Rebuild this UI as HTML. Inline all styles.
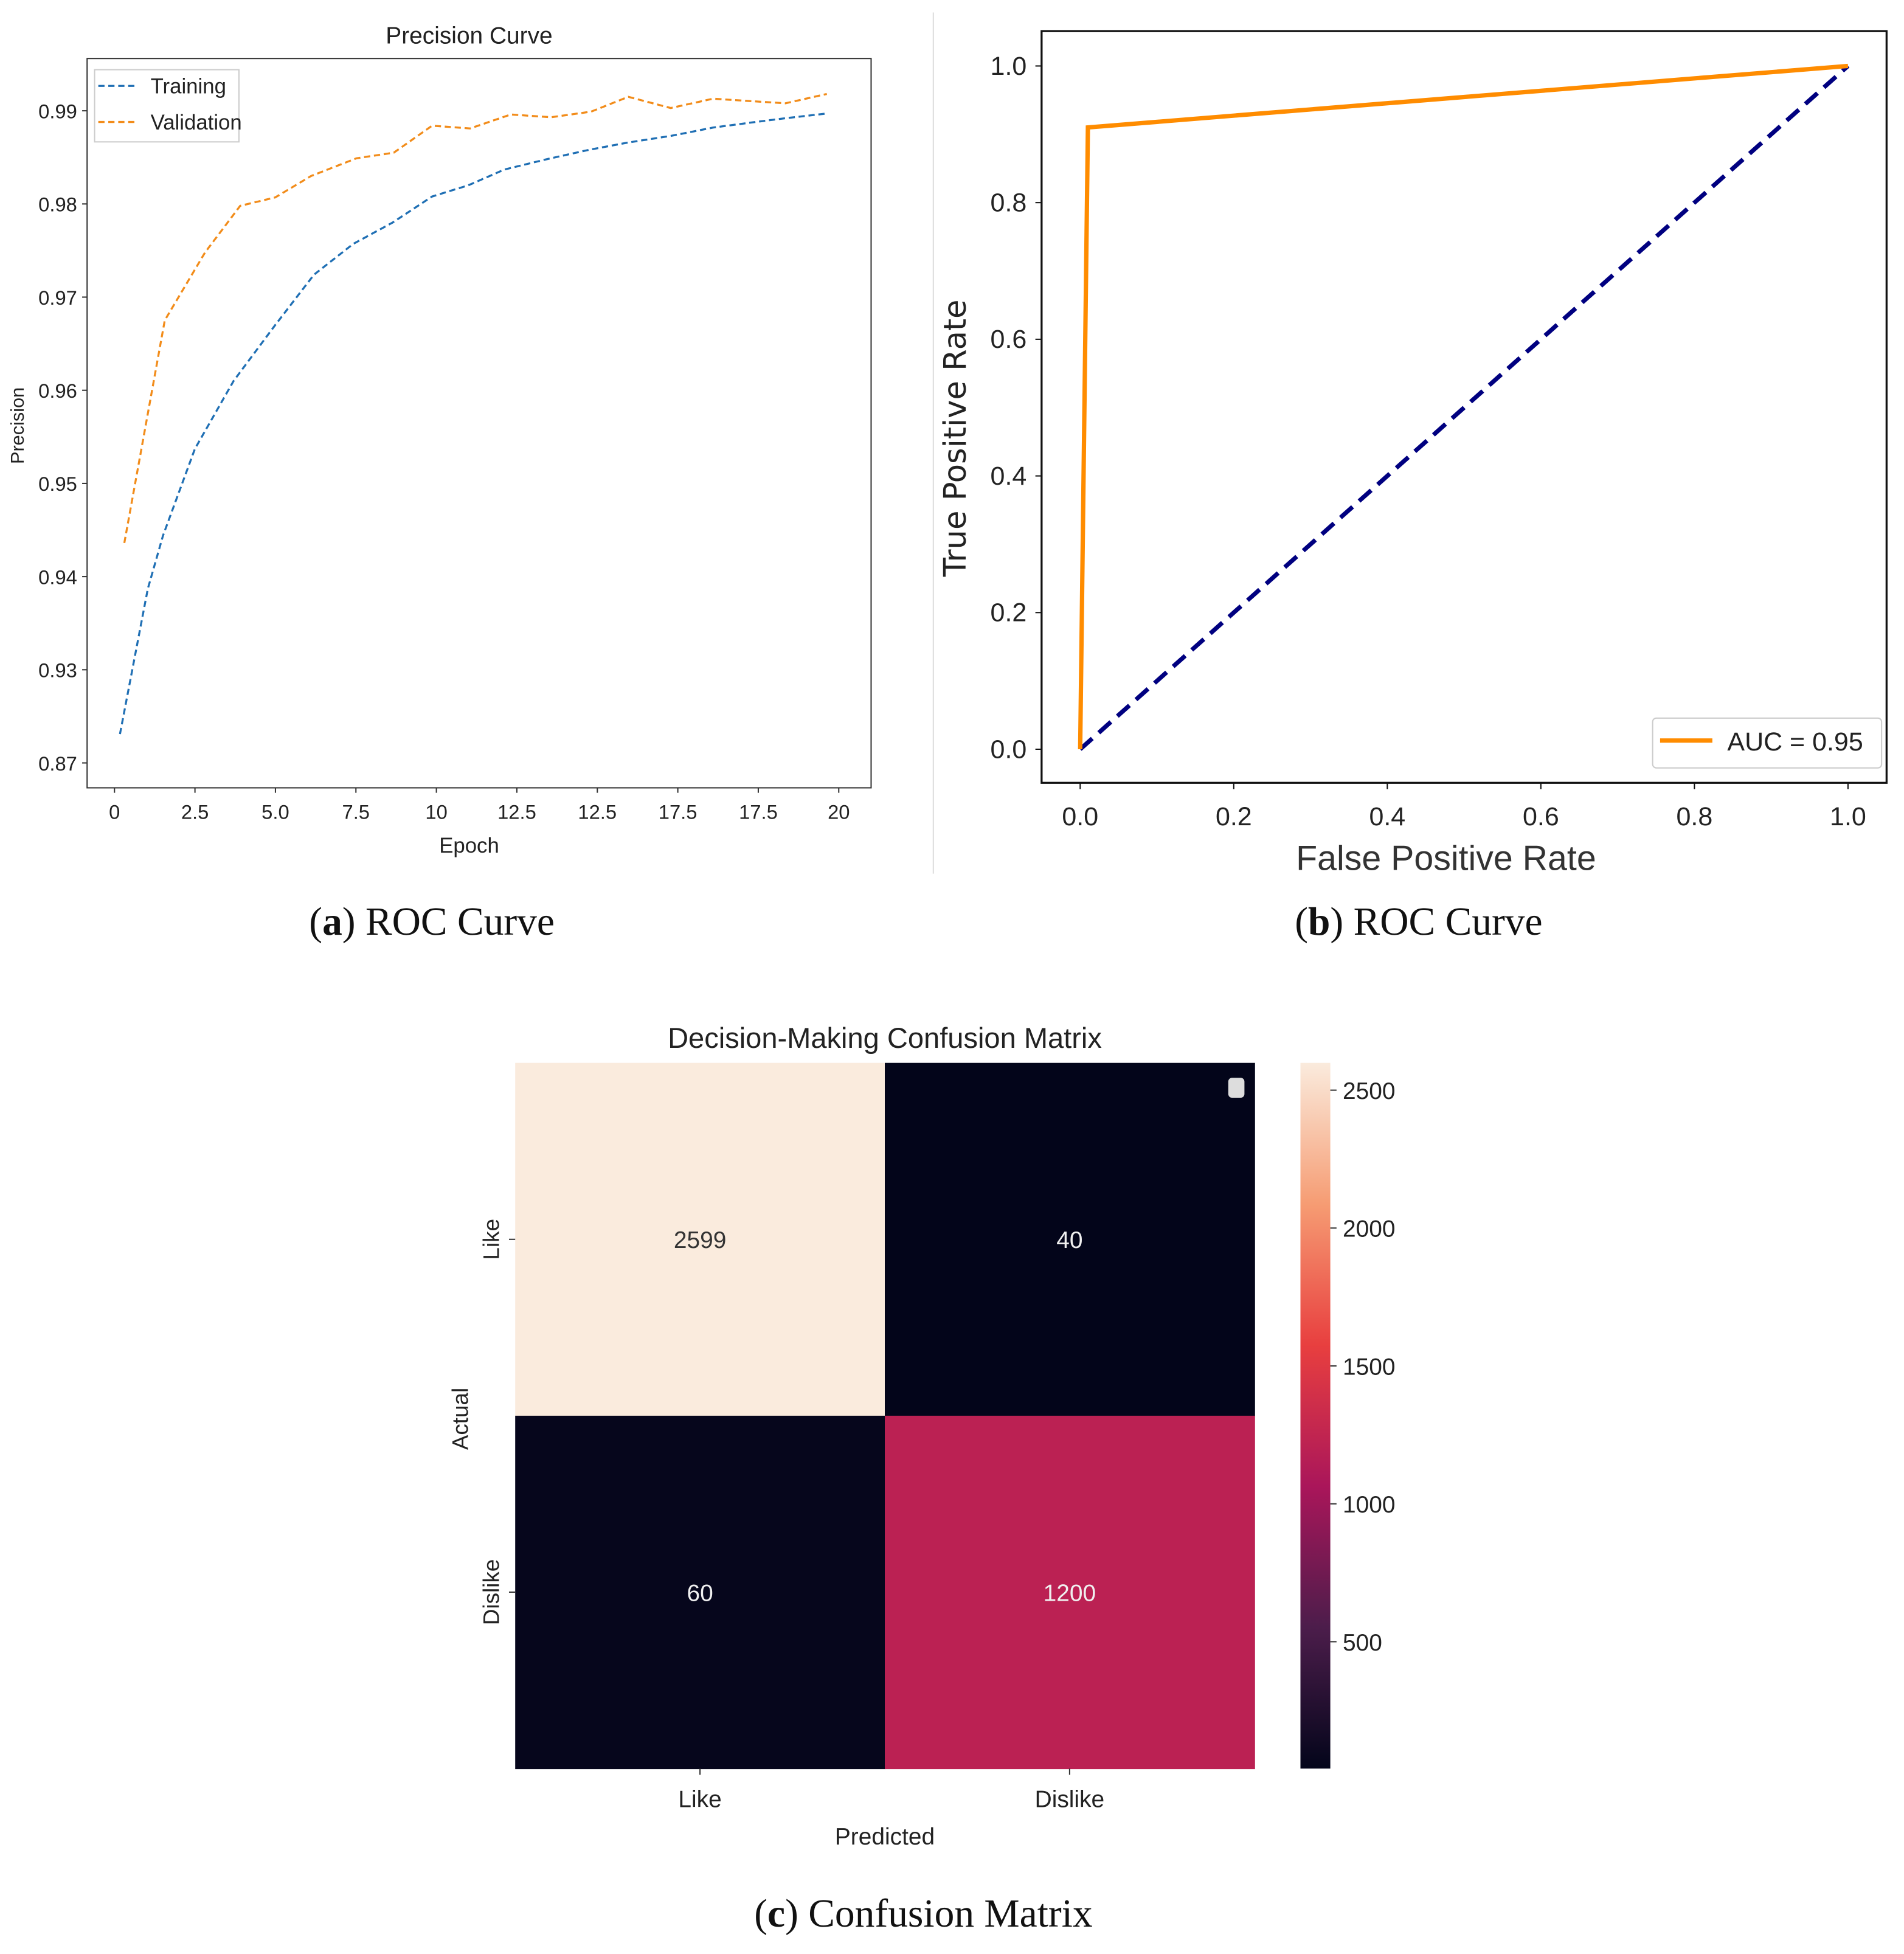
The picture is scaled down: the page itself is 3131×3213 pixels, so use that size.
<!DOCTYPE html>
<html><head><meta charset="utf-8"><style>
html,body{margin:0;padding:0;background:#fff}
svg{display:block}
text{font-family:"Liberation Sans",sans-serif}
.serif{font-family:"Liberation Serif",serif}
</style></head><body>
<svg id="fig" width="3131" height="3213" viewBox="0 0 1530 1570" preserveAspectRatio="none" xmlns="http://www.w3.org/2000/svg">
<defs>
<linearGradient id="rocket" x1="0" y1="1" x2="0" y2="0">
<stop offset="0" stop-color="#03051a"/><stop offset="0.2" stop-color="#4c1d4b"/><stop offset="0.4" stop-color="#aa165a"/><stop offset="0.6" stop-color="#e83f3f"/><stop offset="0.8" stop-color="#f69c73"/><stop offset="1" stop-color="#faebdd"/>
</linearGradient>
</defs>
<line x1="750" y1="10" x2="750" y2="702" stroke="#ddd" stroke-width="1"/>
<g id="pa"></g>
<g id="pb"></g>
<g id="pc"></g>
<text class="serif" fill="#111" x="347" y="751" font-size="32" text-anchor="middle">(<tspan font-weight="bold">a</tspan>) ROC Curve</text>
<text class="serif" fill="#111" x="1140" y="751" font-size="32" text-anchor="middle">(<tspan font-weight="bold">b</tspan>) ROC Curve</text>
<text class="serif" fill="#111" x="742" y="1548" font-size="32" text-anchor="middle">(<tspan font-weight="bold">c</tspan>) Confusion Matrix</text>
</svg>
<script>
// ---- Panel A data ----
const trainEpochs=[0.15,0.92,1.34,2.22,3.29,4.42,5.51,6.59,7.68,8.77,9.77,10.77,11.94,13.1,14.19,15.36,16.53,17.7,18.53,19.67];
const trainPrecision=[0.9231,0.9387,0.9444,0.9537,0.9610,0.9669,0.9724,0.9757,0.9780,0.9808,0.9820,0.9837,0.9848,0.9858,0.9866,0.9873,0.9882,0.9888,0.9892,0.9897];
const valEpochs=[0.27,1.39,2.5,3.47,4.44,5.43,6.68,7.71,8.77,9.82,10.94,12.06,13.16,14.19,15.36,16.53,17.7,18.53,19.67];
const valPrecision=[0.9436,0.9675,0.9748,0.9798,0.9807,0.9830,0.9849,0.9855,0.9884,0.9881,0.9896,0.9893,0.9899,0.9915,0.9903,0.9913,0.9910,0.9908,0.9918];
const aYTickValues=[0.99,0.98,0.97,0.96,0.95,0.94,0.93,0.92];
const aYTickLabels=["0.99","0.98","0.97","0.96","0.95","0.94","0.93","0.87"];
const aXTickLabels=["0","2.5","5.0","7.5","10","12.5","12.5","17.5","17.5","20"];
// ---- Panel B data ----
const rocFpr=[0,0.01,1];
const rocTpr=[0,0.91,1];
const diagX=[0,1];
const diagY=[0,1];
const bTicks=[0,0.2,0.4,0.6,0.8,1.0];
const bTickLabels=["0.0","0.2","0.4","0.6","0.8","1.0"];
// ---- Panel C data ----
const cmLabels=["Like","Dislike"];
const cmValues=[[2599,40],[60,1200]];
const cbTicks=[500,1000,1500,2000,2500];

const NS="http://www.w3.org/2000/svg";
function mk(parent,tag,attrs,txt){const e=document.createElementNS(NS,tag);for(const k in attrs)e.setAttribute(k,attrs[k]);if(tag==='text'&&!attrs.fill)e.setAttribute('fill','#222');if(txt!==undefined)e.textContent=txt;parent.appendChild(e);return e;}

// Panel A
(function(){
const g=document.getElementById('pa');
const L=70,R=700,T=47,B=633;
const ax=v=>92+(v/20)*(674-92);
const ay=v=>89+(0.99-v)/0.07*(613-89);
let t=mk(g,'text',{x:377,y:35,'font-size':19,'text-anchor':'middle'},'Precision Curve');

let r=mk(g,'rect',{x:L,y:T,width:R-L,height:B-T,fill:'none',stroke:'#333','stroke-width':1});

aYTickValues.forEach((v,i)=>{const y=ay(v);
 mk(g,'line',{x1:L-4,y1:y,x2:L,y2:y,stroke:'#333'});
 const e=mk(g,'text',{x:L-8,y:y+6,'font-size':16,'text-anchor':'end'},aYTickLabels[i]);
 });
aXTickLabels.forEach((lab,i)=>{const x=ax(i*20/9);
 mk(g,'line',{x1:x,y1:B,x2:x,y2:B+4,stroke:'#333'});
 const e=mk(g,'text',{x:x,y:B+25,'font-size':16,'text-anchor':'middle'},lab);
 });
t=mk(g,'text',{x:377,y:685,'font-size':17,'text-anchor':'middle'},'Epoch');

t=mk(g,'text',{x:0,y:0,'font-size':15,'text-anchor':'middle',transform:'translate(19,342) rotate(-90)'},'Precision');

function series(xs,ys,col,name){const d=xs.map((x,i)=>(i?'L':'M')+ax(x).toFixed(1)+','+ay(ys[i]).toFixed(1)).join(' ');
 const p=mk(g,'path',{d:d,fill:'none',stroke:col,'stroke-width':1.6,'stroke-dasharray':'5,3'});
 }
series(trainEpochs,trainPrecision,'#1f6fb4','training-line');
series(valEpochs,valPrecision,'#f28c1a','validation-line');
const lg=mk(g,'g',{});
mk(lg,'rect',{x:76,y:56,width:116,height:58,fill:'#fff',stroke:'#ccc'});
mk(lg,'line',{x1:79,y1:69,x2:109,y2:69,stroke:'#1f6fb4','stroke-width':1.6,'stroke-dasharray':'5,3'});
mk(lg,'line',{x1:79,y1:98,x2:109,y2:98,stroke:'#f28c1a','stroke-width':1.6,'stroke-dasharray':'5,3'});
let e=mk(lg,'text',{x:121,y:75,'font-size':17},'Training');
e=mk(lg,'text',{x:121,y:104,'font-size':17},'Validation');
})();

// Panel B
(function(){
const g=document.getElementById('pb');
const L=837,R=1516,T=25,B=629;
const bx=v=>868+v*(1485-868);
const by=v=>602-v*(602-53);
let r=mk(g,'rect',{x:L,y:T,width:R-L,height:B-T,fill:'none',stroke:'#111','stroke-width':1.6});

bTicks.forEach((v,i)=>{
 mk(g,'line',{x1:L-5,y1:by(v),x2:L,y2:by(v),stroke:'#111'});
 let e=mk(g,'text',{x:L-12,y:by(v)+7,'font-size':21,'text-anchor':'end'},bTickLabels[i]);
 
 mk(g,'line',{x1:bx(v),y1:B,x2:bx(v),y2:B+5,stroke:'#111'});
 e=mk(g,'text',{x:bx(v),y:B+34,'font-size':21,'text-anchor':'middle'},bTickLabels[i]);
 });
let t=mk(g,'text',{x:0,y:0,'font-size':25,'text-anchor':'middle',transform:'translate(776,352) rotate(-90)',style:'font-family:"DejaVu Sans",sans-serif'},'True Positive Rate');

t=mk(g,'text',{x:1162,y:699,'font-size':28,'text-anchor':'middle',fill:'#333'},'False Positive Rate');

let p=mk(g,'path',{d:diagX.map((x,i)=>(i?'L':'M')+bx(x)+','+by(diagY[i])).join(' '),fill:'none',stroke:'#000080','stroke-width':3.5,'stroke-dasharray':'13,7'});

p=mk(g,'path',{d:rocFpr.map((x,i)=>(i?'L':'M')+bx(x).toFixed(1)+','+by(rocTpr[i]).toFixed(1)).join(' '),fill:'none',stroke:'#ff8c00','stroke-width':3.5});

const lg=mk(g,'g',{});
mk(lg,'rect',{x:1328,y:577,width:184,height:40,rx:3,fill:'#fff',stroke:'#ccc'});
mk(lg,'line',{x1:1334,y1:595,x2:1376,y2:595,stroke:'#ff8c00','stroke-width':3.5});
let e=mk(lg,'text',{x:1388,y:603,'font-size':21},'AUC = 0.95');
})();

// Panel C
(function(){
const g=document.getElementById('pc');
const L=414,R=1008,T=854,B=1421;
const vmin=40,vmax=2599;
const stops=[[0,[3,5,26]],[0.2,[76,29,75]],[0.4,[170,22,90]],[0.6,[232,63,63]],[0.8,[246,156,115]],[1,[250,235,221]]];
function cmap(v){let f=(v-vmin)/(vmax-vmin);f=Math.max(0,Math.min(1,f));
 for(let i=1;i<stops.length;i++){if(f<=stops[i][0]){const a=stops[i-1],b=stops[i];const u=(f-a[0])/(b[0]-a[0]);
 const c=a[1].map((x,k)=>Math.round(x+(b[1][k]-x)*u));return 'rgb('+c.join(',')+')';}}return 'rgb(250,235,221)';}
const cw=(R-L)/2,ch=(B-T)/2;
let t=mk(g,'text',{x:711,y:842,'font-size':23,'text-anchor':'middle'},'Decision-Making Confusion Matrix');

cmValues.forEach((row,i)=>row.forEach((v,j)=>{
 const c=mk(g,'rect',{x:L+j*cw,y:T+i*ch,width:cw+0.5,height:ch+0.5,fill:cmap(v)});
 
 const f=(v-vmin)/(vmax-vmin);
 const e=mk(g,'text',{x:L+j*cw+cw/2,y:T+i*ch+ch/2+7,'font-size':19,'text-anchor':'middle',fill:f>0.6?'#333':'#f0f0f0'},String(v));
 }));
let sq=mk(g,'rect',{x:987,y:866,width:13,height:16,rx:3,fill:'#ddd'});

cmLabels.forEach((lab,i)=>{
 const y=T+i*ch+ch/2;
 mk(g,'line',{x1:L-5,y1:y,x2:L,y2:y,stroke:'#333'});
 let e=mk(g,'text',{x:0,y:0,'font-size':18,'text-anchor':'middle',transform:'translate(401,'+y+') rotate(-90)'},lab);
 
 const x=L+i*cw+cw/2;
 mk(g,'line',{x1:x,y1:B,x2:x,y2:B+5,stroke:'#333'});
 e=mk(g,'text',{x:x,y:B+31,'font-size':19,'text-anchor':'middle'},lab);
 });
t=mk(g,'text',{x:711,y:1482,'font-size':19,'text-anchor':'middle'},'Predicted');

t=mk(g,'text',{x:0,y:0,'font-size':18,'text-anchor':'middle',transform:'translate(376,1140) rotate(-90)'},'Actual');

const cb=mk(g,'rect',{x:1045,y:T,width:24,height:B-T,fill:'url(#rocket)'});

const cy=v=>B-(v-vmin)/(vmax-vmin)*(B-T);
cbTicks.forEach(v=>{mk(g,'line',{x1:1069,y1:cy(v),x2:1074,y2:cy(v),stroke:'#333'});
 const e=mk(g,'text',{x:1079,y:cy(v)+7,'font-size':19},String(v));
 });
})();
</script>
</body></html>
